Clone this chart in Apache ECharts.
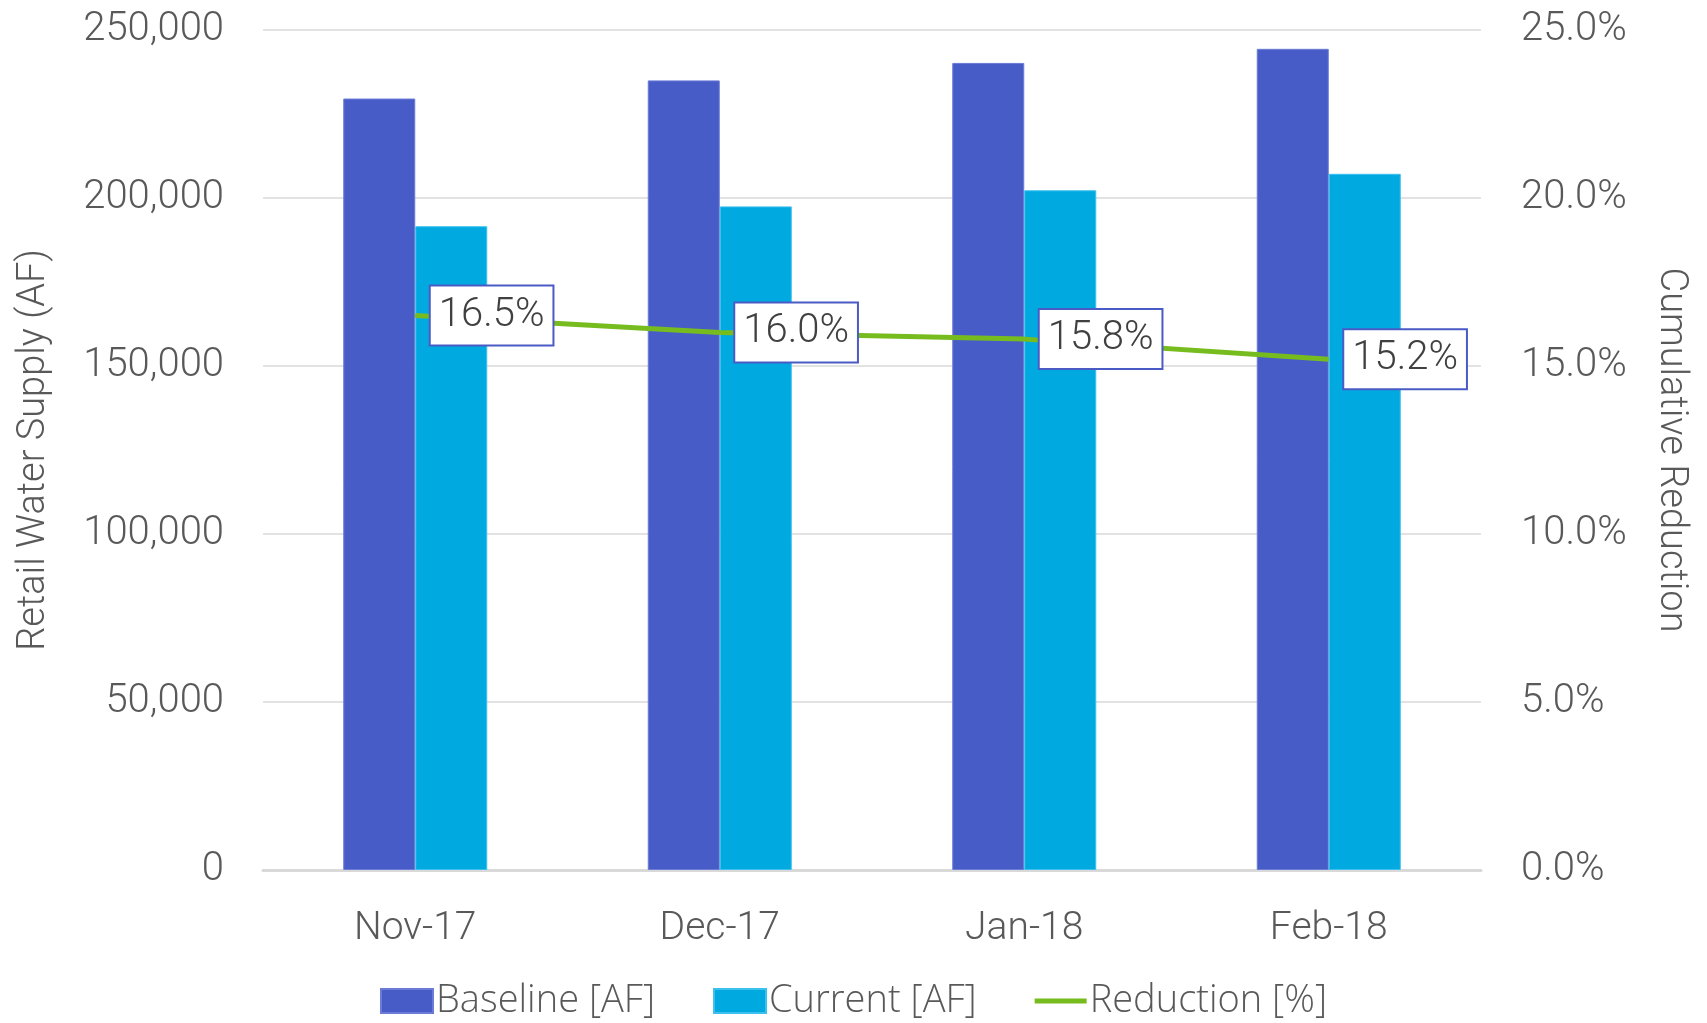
<!DOCTYPE html>
<html>
<head>
<meta charset="utf-8">
<script src="https://cdn.jsdelivr.net/npm/echarts@6/dist/echarts.min.js"></script>
<style>
  html, body { margin: 0; padding: 0; background: #fff; }
  #chart { width: 1707px; height: 1023px; }
</style>
</head>
<body>
<div id="chart"></div>
<script>
// data
const months = ['Nov-17', 'Dec-17', 'Jan-18', 'Feb-18'];
const baseline = [229600, 235000, 240200, 244400];
const current = [191600, 197500, 202300, 207200];
const reduction = [16.5, 16.0, 15.8, 15.2];

const leftTicks = { min: 0, max: 250000, interval: 50000 };
const rightTicks = { min: 0, max: 25, interval: 5 };

const textFont = 'Roboto';
const axisGray = '#595959';

const chart = echarts.init(document.getElementById('chart'));

const option = {
    animation: false,
    grid: {
        left: 263,
        right: 226,
        top: 30,
        bottom: 153
    },
    legend: {
        bottom: -2,
        left: 'center',
        itemWidth: 52,
        itemHeight: 24,
        itemGap: 58,
        textStyle: {
            fontFamily: 'Open Sans',
            fontWeight: 300,
            fontSize: 38,
            color: axisGray,
            padding: [0, 0, 0, -2]
        },
        data: [
            { name: 'Baseline [AF]', icon: 'rect' },
            { name: 'Current [AF]', icon: 'rect' },
            { name: 'Reduction [%]', icon: 'path://M0,0H52V5H0Z' }
        ]
    },
    xAxis: [{
        type: 'category',
        data: months,
        axisTick: { show: false },
        axisLine: {
            lineStyle: { color: '#d9d9d9', width: 3 }
        },
        axisLabel: {
            margin: 40,
            fontFamily: textFont,
            fontWeight: 300,
            fontSize: 39,
            color: axisGray
        }
    }],
    yAxis: [{
        type: 'value',
        min: leftTicks.min,
        max: leftTicks.max,
        interval: leftTicks.interval,
        name: 'Retail Water Supply (AF)',
        nameLocation: 'middle',
        nameGap: 210,
        nameTextStyle: {
            fontFamily: textFont,
            fontWeight: 300,
            fontSize: 38,
            color: axisGray
        },
        axisLine: { show: false },
        axisTick: { show: false },
        splitLine: {
            lineStyle: { color: '#d9d9d9', width: 1.5 }
        },
        axisLabel: {
            margin: 39,
            fontFamily: textFont,
            fontWeight: 300,
            fontSize: 40,
            color: axisGray,
            formatter: (v) => v.toLocaleString('en-US')
        }
    }, {
        type: 'value',
        min: rightTicks.min,
        max: rightTicks.max,
        interval: rightTicks.interval,
        name: 'Cumulative Reduction',
        nameLocation: 'middle',
        nameGap: 170,
        nameRotate: -90,
        nameTextStyle: {
            fontFamily: textFont,
            fontWeight: 300,
            fontSize: 38,
            color: axisGray
        },
        axisLine: { show: false },
        axisTick: { show: false },
        splitLine: { show: false },
        axisLabel: {
            margin: 40,
            fontFamily: textFont,
            fontWeight: 300,
            fontSize: 40,
            color: axisGray,
            formatter: (v) => v.toFixed(1) + '%'
        }
    }],
    series: [{
        name: 'Baseline [AF]',
        type: 'bar',
        data: baseline,
        barWidth: 72,
        barGap: '0%',
        itemStyle: { color: '#485cc7', borderColor: '#6b7bd6', borderWidth: 1 }
    }, {
        name: 'Current [AF]',
        type: 'bar',
        data: current,
        barWidth: 72,
        barGap: '0%',
        itemStyle: { color: '#00a9e0', borderColor: '#3cc0ee', borderWidth: 1 }
    }, {
        name: 'Reduction [%]',
        type: 'line',
        yAxisIndex: 1,
        data: reduction,
        symbol: 'circle',
        symbolSize: 1,
        showSymbol: true,
        lineStyle: { color: '#77bc1f', width: 5 },
        itemStyle: { color: '#77bc1f' },
        z: 5,
        label: {
            show: true,
            position: 'right',
            distance: 15,
            formatter: (p) => p.value.toFixed(1) + '%',
            fontFamily: textFont,
            fontWeight: 300,
            fontSize: 40,
            color: '#404040',
            backgroundColor: '#fff',
            borderColor: '#4a5bc6',
            borderWidth: 2,
            padding: [10, 8, 8, 8]
        }
    }]
};

chart.setOption(option);
</script>
</body>
</html>
